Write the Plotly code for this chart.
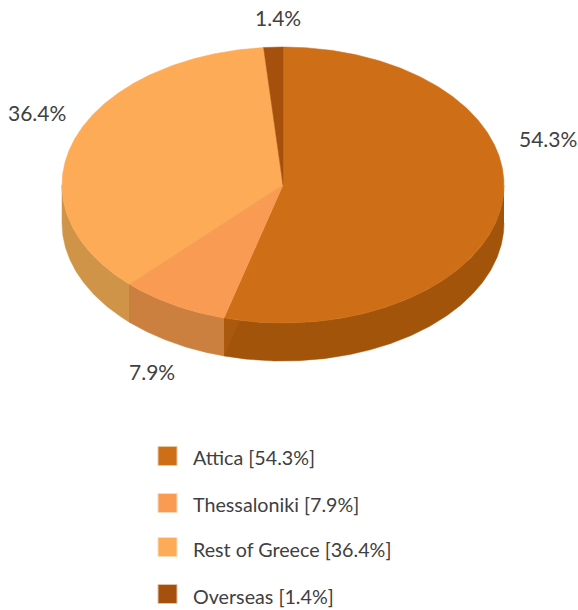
import math
import plotly.graph_objects as go

# Share of the total by region, in percent
regions = ["Attica", "Thessaloniki", "Rest of Greece", "Overseas"]
shares = [54.3, 7.9, 36.4, 1.4]

top_colors = ["#CE6F17", "#F99B52", "#FDAB56", "#A5500D"]
wall_colors = ["#A2540A", "#CC8040", "#D09448", "#7F3F08"]
swatch_edges = ["#EDC6A0", "#FBD9BC", "#FEDDBB", "#E3C2A5"]

# Drawing geometry of the tilted disc, in page pixels
CX, CY, RX, RY, DEPTH = 283, 185, 221, 138, 38
label_xy = [(548, 138.5), (152, 371.5), (37, 112.5), (278, 17.5)]
TEXT = "#404040"
FONT = "Lato"

# Shading on the near walls
CUT_FACE_COLOR = "#AA590E"
CUT_FACE_SWEEP = 4.3
WALL_SEAM_COLOR = "#B98038"
TOP_SEAM_COLOR = "#EE9E52"

# Key placement: swatch column, text column and the row of each entry
KEY_SWATCH_X = 167.5
KEY_TEXT_X = 191
key_swatch_y = [456, 503, 547, 594]
key_text_y = [457.5, 504.5, 549, 596]


def rim(a0, a1, dy=0):
    """Points on the disc rim between two clockwise angles measured from the top."""
    n = max(2, int(abs(a1 - a0) * 2))
    angles = [a0 + (a1 - a0) * i / n for i in range(n + 1)]
    xs = [CX + RX * math.sin(math.radians(a)) for a in angles]
    ys = [CY - RY * math.cos(math.radians(a)) + dy for a in angles]
    return xs, ys


def rim_point(a, dy=0):
    return (CX + RX * math.sin(math.radians(a)),
            CY - RY * math.cos(math.radians(a)) + dy)


fig = go.Figure()

# Cumulative slice angles
spans = []
start = 0.0
for share in shares:
    end = start + share * 3.6
    spans.append((start, end))
    start = end

# Outer walls: only the part of each slice on the near half of the disc
for (a0, a1), color in zip(spans, wall_colors):
    lo, hi = max(a0, 90), min(a1, 270)
    if lo >= hi:
        continue
    x_top, y_top = rim(lo, hi)
    x_bot, y_bot = rim(lo, hi, DEPTH)
    fig.add_trace(go.Scatter(
        x=x_top + x_bot[::-1], y=y_top + y_bot[::-1],
        mode="lines", fill="toself", fillcolor=color,
        line=dict(color=color, width=0.5),
        showlegend=False, hoverinfo="skip",
    ))

# Lighter sliver where the first slice's cut face shows through its wall
a_end = spans[0][1]
p_top, p_bot, p_back = rim_point(a_end), rim_point(a_end, DEPTH), rim_point(a_end - CUT_FACE_SWEEP)
fig.add_trace(go.Scatter(
    x=[p_top[0], p_bot[0], p_back[0], p_top[0]],
    y=[p_top[1], p_bot[1], p_back[1], p_top[1]],
    mode="lines", fill="toself", fillcolor=CUT_FACE_COLOR,
    line=dict(color=CUT_FACE_COLOR, width=0),
    showlegend=False, hoverinfo="skip",
))

# Top faces
for (a0, a1), color in zip(spans, top_colors):
    xs, ys = rim(a0, a1)
    fig.add_trace(go.Scatter(
        x=[CX] + xs + [CX], y=[CY] + ys + [CY],
        mode="lines", fill="toself", fillcolor=color,
        line=dict(color=color, width=0.5),
        showlegend=False, hoverinfo="skip",
    ))

# Faint seams along the border of the second and third slices
a_seam = spans[1][1]
s_top, s_bot = rim_point(a_seam), rim_point(a_seam, DEPTH)
fig.add_trace(go.Scatter(
    x=[s_top[0], s_bot[0]], y=[s_top[1], s_bot[1]], mode="lines",
    line=dict(color=WALL_SEAM_COLOR, width=1),
    showlegend=False, hoverinfo="skip",
))
fig.add_trace(go.Scatter(
    x=[CX, s_top[0]], y=[CY, s_top[1]], mode="lines",
    line=dict(color=TOP_SEAM_COLOR, width=0.7),
    showlegend=False, hoverinfo="skip",
))

# Percentage labels around the disc
for share, (lx, ly) in zip(shares, label_xy):
    fig.add_annotation(
        x=lx, y=ly, xref="x", yref="y", text=f"{share}%", showarrow=False,
        font=dict(family=FONT, size=21, color=TEXT),
    )

# Key below the disc: square swatches with the region name and its share
fig.add_trace(go.Scatter(
    x=[KEY_SWATCH_X] * len(regions), y=key_swatch_y, mode="markers",
    marker=dict(symbol="square", size=19, color=top_colors,
                line=dict(color=swatch_edges, width=1)),
    showlegend=False, hoverinfo="skip",
))
for region, share, ky in zip(regions, shares, key_text_y):
    fig.add_annotation(
        x=KEY_TEXT_X, y=ky, xref="x", yref="y", xanchor="left",
        text=f"{region} [{share}%]", showarrow=False,
        font=dict(family=FONT, size=19.7, color=TEXT),
    )

fig.update_layout(
    width=578, height=610,
    margin=dict(l=0, r=0, t=0, b=0, autoexpand=False),
    paper_bgcolor="white", plot_bgcolor="white",
    showlegend=False,
    xaxis=dict(range=[0, 578], visible=False, fixedrange=True),
    yaxis=dict(range=[610, 0], visible=False, fixedrange=True),
)

fig.write_html("out.html")
